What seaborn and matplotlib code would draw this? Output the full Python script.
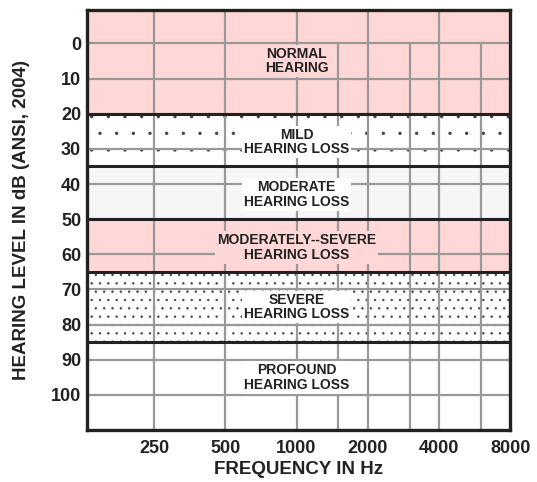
import matplotlib
matplotlib.use("Agg")
import matplotlib.pyplot as plt
import seaborn as sns

# hearing loss bands (dB HL)
band_names = ["NORMAL\nHEARING", "MILD\nHEARING LOSS", "MODERATE\nHEARING LOSS",
              "MODERATELY--SEVERE\nHEARING LOSS", "SEVERE\nHEARING LOSS",
              "PROFOUND\nHEARING LOSS"]
band_lo = [-10, 20, 35, 50, 65, 85]
band_hi = [20, 35, 50, 65, 85, 110]
band_text_y = [5, 28, 43, 58, 75, 95]
band_text_x = [1000, 1000, 1000, 1000, 1000, 1000]

# axes
freqs = [250, 500, 1000, 2000, 4000, 8000]
freq_labels = ["250", "500", "1000", "2000", "4000", "8000"]
half_freqs = [1500, 3000, 6000]
db_ticks = [0, 10, 20, 30, 40, 50, 60, 70, 80, 90, 100]

pink = "#ffd7d7"
band_face = [pink, "white", "#f6f6f6", pink, "white", "white"]
band_hatch = [None, ".", None, None, "..", None]
hatch_lw = [0, 0, 0, 0, 0.5, 0]
box_face = [pink, "white", "white", pink, "white", "white"]

sns.set_theme(style="white")
plt.rcParams["font.family"] = ["Liberation Sans", "DejaVu Sans"]

fig = plt.figure(figsize=(5.37, 4.82), dpi=100)
ax = fig.add_axes([0.1615, 0.108, 0.789, 0.871])
ax.set_xscale("log")
ax.set_xlim(130, 8000)
ax.set_ylim(110, -9.5)

grid_c = "#999999"
for lo, hi, fc, h, hl in zip(band_lo, band_hi, band_face, band_hatch, hatch_lw):
    with plt.rc_context({"hatch.linewidth": hl}):
        ax.axhspan(lo, hi, facecolor=fc, edgecolor="#444444" if h else fc,
                   hatch=h, linewidth=0, zorder=0)

# grid
ax.vlines(freqs[:-1], -10, 110, color=grid_c, lw=1.6, zorder=1)
ax.vlines(half_freqs, 0, 110, color=grid_c, lw=1.6, zorder=1)
ax.hlines(db_ticks, 130, 8000, color=grid_c, lw=1.6, zorder=1)

# band borders
for lo in band_lo[1:]:
    ax.axhline(lo, color="#222222", lw=2.2, zorder=2)

for name, x, y, bc in zip(band_names, band_text_x, band_text_y, box_face):
    ax.text(x, y, name, ha="center", va="center", fontsize=10,
            fontweight="bold", color="#222222", linespacing=1.05, zorder=3,
            bbox=dict(boxstyle="square,pad=0.15", fc=bc, ec="none"))

ax.set_xticks(freqs)
ax.set_xticklabels(freq_labels)
ax.xaxis.set_minor_locator(matplotlib.ticker.NullLocator())
ax.set_yticks(db_ticks)
ax.tick_params(axis="both", length=0, labelsize=13, colors="#222222")
ax.tick_params(axis="x", pad=7)
ax.tick_params(axis="y", pad=4)
for lab in ax.get_xticklabels() + ax.get_yticklabels():
    lab.set_fontweight("bold")

for s in ax.spines.values():
    s.set_color("#222222")
    s.set_linewidth(2.4)
    s.set_zorder(4)

ax.set_xlabel("FREQUENCY IN Hz", fontsize=13.5, fontweight="bold", color="#222222", labelpad=3)
ax.set_ylabel("HEARING LEVEL IN dB (ANSI, 2004)", fontsize=13.5, fontweight="bold",
              color="#222222", labelpad=15)

fig.savefig("out.png", dpi=100)
